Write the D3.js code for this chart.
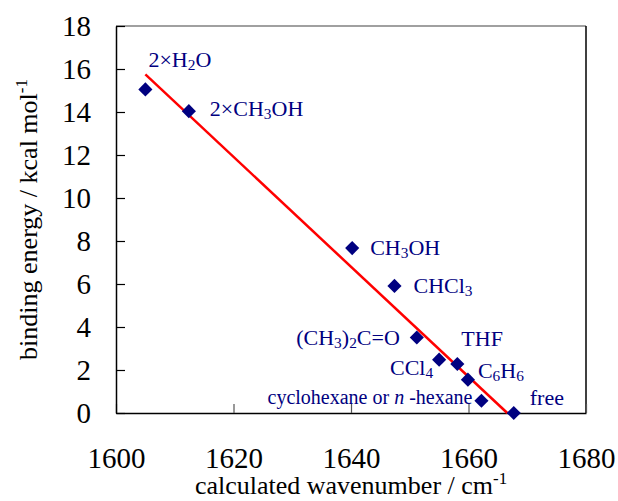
<!DOCTYPE html>
<html>
<head>
<meta charset="utf-8">
<script src="https://cdn.jsdelivr.net/npm/d3@7"></script>
<style>
  #chart text, #chart tspan { font-family: 'Liberation Serif', 'Times New Roman', Times, serif !important; }
</style>
</head>
<body style="margin:0; background:#fff">
<svg id="chart" width="618" height="501" style="font-family: 'Liberation Serif', serif"></svg>
<script>
// measured points
var wavenumber = [1605.0, 1612.4, 1640.2, 1647.4, 1651.2, 1655.0, 1658.1, 1659.9, 1662.2, 1667.7];
var energy     = [15.05, 14.04, 7.67, 5.91, 3.51, 2.48, 2.28, 1.55, 0.57, 0.0];
// label parts: [text, "sub"] pieces
var labels = [
    [["2×H"], ["2", "sub"], ["O"]],
    [["2×CH"], ["3", "sub"], ["OH"]],
    [["CH"], ["3", "sub"], ["OH"]],
    [["CHCl"], ["3", "sub"]],
    [["(CH"], ["3", "sub"], [")"], ["2", "sub"], ["C=O"]],
    [["CCl"], ["4", "sub"]],
    [["THF"]],
    [["C"], ["6", "sub"], ["H"], ["6", "sub"]],
    [["cyclohexane or "], ["n", "it"], [" -hexane"]],
    [["free"]]
];
// linear fit end points
var fitX = [1605.0, 1666.6];
var fitY = [15.75, 0];

var xTicks = [1600, 1620, 1640, 1660, 1680];
var yTicks = [0, 2, 4, 6, 8, 10, 12, 14, 16, 18];

// label placement relative to marker: dx, dy, anchor
var labelPos = [
    [3, -22, "start"], [21, 5, "start"], [18, 7, "start"], [19, 7, "start"],
    [-17, 7, "end"], [-6, 15, "end"], [4, -18, "start"], [10, -2, "start"],
    [-9, 3, "end"], [16, -8, "start"]
];

var serif = "'Liberation Serif', serif";

var svg = d3.select("#chart");
var mLeft = 116, mRight = 586, mTop = 26, mBottom = 413;

var x = d3.scaleLinear().domain([1600, 1680]).range([mLeft, mRight]);
var y = d3.scaleLinear().domain([0, 18]).range([mBottom, mTop]);

// frame
svg.append("line").attr("x1", mLeft).attr("x2", mRight).attr("y1", mTop).attr("y2", mTop)
    .attr("stroke", "#808080").attr("stroke-width", 1.5);
svg.append("line").attr("x1", mRight).attr("x2", mRight).attr("y1", mTop).attr("y2", mBottom)
    .attr("stroke", "#000").attr("stroke-width", 1.5);

var gx = svg.append("g")
    .attr("transform", "translate(0," + mBottom + ")")
    .call(d3.axisBottom(x).tickValues(xTicks).tickFormat(d3.format("d"))
        .tickSizeInner(-9).tickSizeOuter(0).tickPadding(34));
gx.attr("font-family", null);
gx.select(".domain").attr("stroke", "#000").attr("stroke-width", 1.5);
gx.selectAll(".tick line").attr("stroke", "#555").attr("stroke-width", 1.2);
gx.selectAll(".tick text").attr("fill", "#000")
    .style("font-family", serif).style("font-size", "29px");

var gy = svg.append("g")
    .attr("transform", "translate(" + mLeft + ",0)")
    .call(d3.axisLeft(y).tickValues(yTicks).tickFormat(d3.format("d"))
        .tickSizeInner(-9).tickSizeOuter(0).tickPadding(25));
gy.attr("font-family", null);
gy.select(".domain").attr("stroke", "#000").attr("stroke-width", 1.5);
gy.selectAll(".tick line").attr("stroke", "#000").attr("stroke-width", 1.2);
gy.selectAll(".tick text").attr("fill", "#000")
    .style("font-family", serif).style("font-size", "29px");

// fit line
svg.append("path")
    .datum(d3.zip(fitX, fitY))
    .attr("d", d3.line().x(function(d) { return x(d[0]); }).y(function(d) { return y(d[1]); }))
    .attr("stroke", "#ff0000").attr("stroke-width", 2.5).attr("fill", "none");

// markers
var pts = d3.zip(wavenumber, energy);
svg.selectAll("path.pt")
    .data(pts)
    .enter().append("path")
    .attr("class", "pt")
    .attr("d", d3.symbol(d3.symbolSquare, 100))
    .attr("transform", function(d) { return "translate(" + x(d[0]) + "," + y(d[1]) + ") rotate(45)"; })
    .attr("fill", "#000080");

// labels
pts.forEach(function(d, i) {
    var p = labelPos[i];
    var t = svg.append("text")
        .attr("x", x(d[0]) + p[0])
        .attr("y", y(d[1]) + p[1])
        .attr("text-anchor", p[2])
        .attr("fill", "#000080")
        .style("font-family", serif)
        .style("font-size", (i == 8 ? 20 : 22) + "px");
    labels[i].forEach(function(part) {
        var s = t.append("tspan").text(part[0]);
        if (part[1] == "sub") {
            s.style("font-size", "0.7em").attr("baseline-shift", "-20%");
        } else if (part[1] == "it") {
            s.style("font-style", "italic");
        }
    });
});

// axis titles
var xt = svg.append("text")
    .attr("x", (mLeft + mRight) / 2).attr("y", 494)
    .attr("text-anchor", "middle")
    .style("font-family", serif).style("font-size", "26px");
xt.append("tspan").text("calculated wavenumber / cm");
xt.append("tspan").text("-1").style("font-size", "0.65em").attr("baseline-shift", "60%");

var yt = svg.append("text")
    .attr("transform", "translate(37," + (mTop + mBottom) / 2 + ") rotate(-90)")
    .attr("text-anchor", "middle")
    .style("font-family", serif).style("font-size", "26px");
yt.append("tspan").text("binding energy / kcal mol");
yt.append("tspan").text("-1").style("font-size", "0.65em").attr("baseline-shift", "60%");
</script>
</body>
</html>
